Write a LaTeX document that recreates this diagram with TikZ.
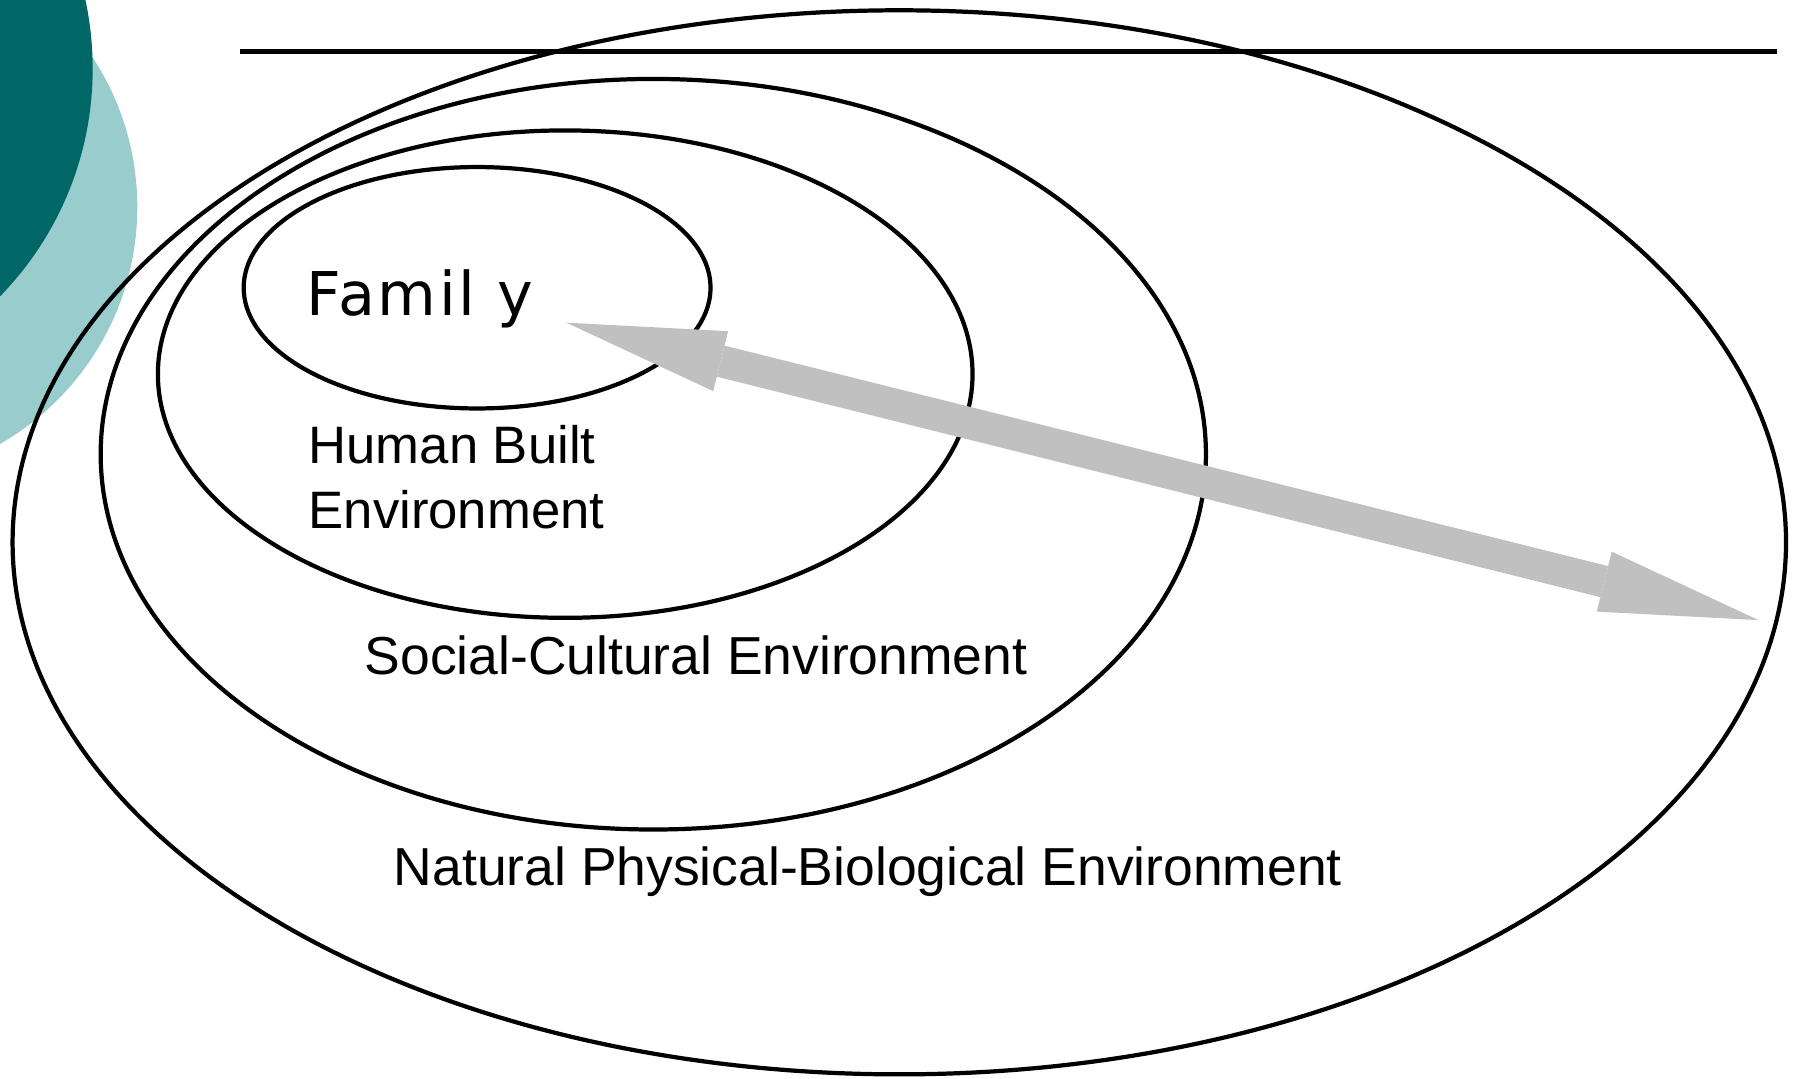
\documentclass[tikz,border=0pt]{standalone}
\usepackage{fontspec}
\setmainfont{Liberation Sans}
\newfontfamily\familyfont[LetterSpace=4.5]{DejaVu Sans}
\usetikzlibrary{shapes.geometric, arrows.meta, positioning}
\definecolor{darkteal}{RGB}{0,102,102}
\definecolor{lightteal}{RGB}{153,204,204}
\definecolor{arrowgray}{RGB}{192,192,192}

\begin{document}
\begin{tikzpicture}[
    ring/.style={ellipse, draw=black, line width=1.05pt, inner sep=0pt},
    envtext/.style={anchor=base west, inner sep=0pt, font=\fontsize{13.3}{16.2}\selectfont},
    bigarrow/.style={arrowgray, line width=0.28cm, {Triangle[length=1.39cm, width=0.54cm, line width=0pt]}-{Triangle[length=1.39cm, width=0.54cm, line width=0pt]}}
]
    \useasboundingbox (0,0) rectangle (15.68,9.43);
    \clip (0,0) rectangle (15.68,9.43);
    % corner decoration
    \fill[lightteal] (-1.185,7.62) circle (2.385);
    \fill[darkteal] (-2.04,8.83) circle (2.85);
    \coordinate (ruleL) at (2.10,8.98);
    \coordinate (ruleR) at (15.53,8.98);
    \draw[line width=1.1pt] (ruleL) -- (ruleR);

    % nested environments
    \node[ring, minimum width=15.50cm, minimum height=9.30cm] (natural) at (7.86,4.69) {};
    \node[ring, minimum width=9.66cm, minimum height=6.56cm] (social) at (5.71,5.46) {};
    \node[ring, minimum width=7.12cm, minimum height=4.26cm] (built) at (4.94,6.16) {};
    \node[ring, minimum width=4.08cm, minimum height=2.11cm] (family) at (4.17,6.915) {};

    \node[envtext, font=\familyfont\fontsize{15}{17}\selectfont] (familytext) at (2.67,6.67) {Famil y};
    \node[envtext, align=left, font=\fontsize{13.1}{16.2}\selectfont] (builttext) at (2.69,4.81) {Human Built\\Environment};
    \node[envtext] (socialtext) at (3.18,3.535) {Social-Cultural Environment};
    \node[envtext] (naturaltext) at (3.435,1.695) {Natural Physical-Biological Environment};

    \coordinate (innertip) at (4.95,6.61);
    \coordinate (outertip) at (15.37,4.01);
    \draw[bigarrow] (innertip) -- (outertip);
\end{tikzpicture}
\end{document}
